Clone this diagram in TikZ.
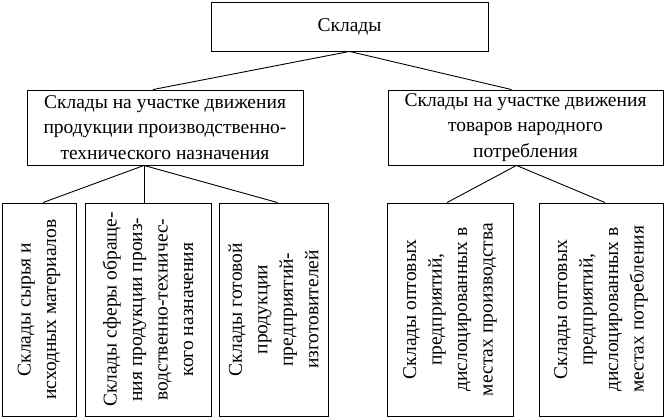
\documentclass[tikz,border=0pt]{standalone}
\usepackage{fontspec}
\setmainfont{Liberation Serif}
\tikzset{
	box/.style={draw, line width=0.9pt, align=center, inner sep=2pt},
	vbox/.style={box, rotate=90, minimum width=213pt},
	link/.style={line width=0.9pt},
}
\begin{document}
\begin{tikzpicture}[x=1pt, y=-1pt, font=\fontsize{19.5}{25.5}\selectfont]
	\useasboundingbox (0,0) rectangle (665,420);
	\node[box, minimum width=277pt, minimum height=49pt] (sklady) at (349.5,26.5) {Склады};
	\node[box, minimum width=276pt, minimum height=75pt] (prod) at (165,127.5) {Склады на участке движения\\продукции производственно-\\технического назначения};
	\node[box, minimum width=275pt, minimum height=75pt] (tovar) at (525.5,127.5) {Склады на участке движения\\товаров народного\\потребления};
	\node[vbox, minimum height=74pt] (syr) at (39,309.5) {Склады сырья и\\исходных материалов};
	\node[vbox, minimum height=126pt] (obr) at (148,309.5) {Склады сферы обраще-\\ния продукции произ-\\водственно-техничес-\\кого назначения};
	\node[vbox, minimum height=109pt] (gotov) at (273.5,309.5) {Склады готовой\\продукции\\предприятий-\\изготовителей};
	\node[vbox, minimum height=126pt] (optpr) at (450,309.5) {Склады оптовых\\предприятий,\\дислоцированных в\\местах производства};
	\node[vbox, minimum height=124pt] (optpt) at (601,309.5) {Склады оптовых\\предприятий,\\дислоцированных в\\местах потребления};
	\draw[link] (sklady.south) -- ([xshift=-12pt]prod.north);
	\draw[link] (sklady.south) -- ([xshift=-14pt]tovar.north);
	\draw[link] ([xshift=-21pt]prod.south) -- ([xshift=4pt]syr.east);
	\draw[link] ([xshift=-21pt]prod.south) -- ([xshift=-4pt]obr.east);
	\draw[link] ([xshift=-21pt]prod.south) -- ([xshift=4pt]gotov.east);
	\draw[link] ([xshift=-9pt]tovar.south) -- ([xshift=-3pt]optpr.east);
	\draw[link] ([xshift=-9pt]tovar.south) -- ([xshift=4pt]optpt.east);
\end{tikzpicture}
\end{document}
